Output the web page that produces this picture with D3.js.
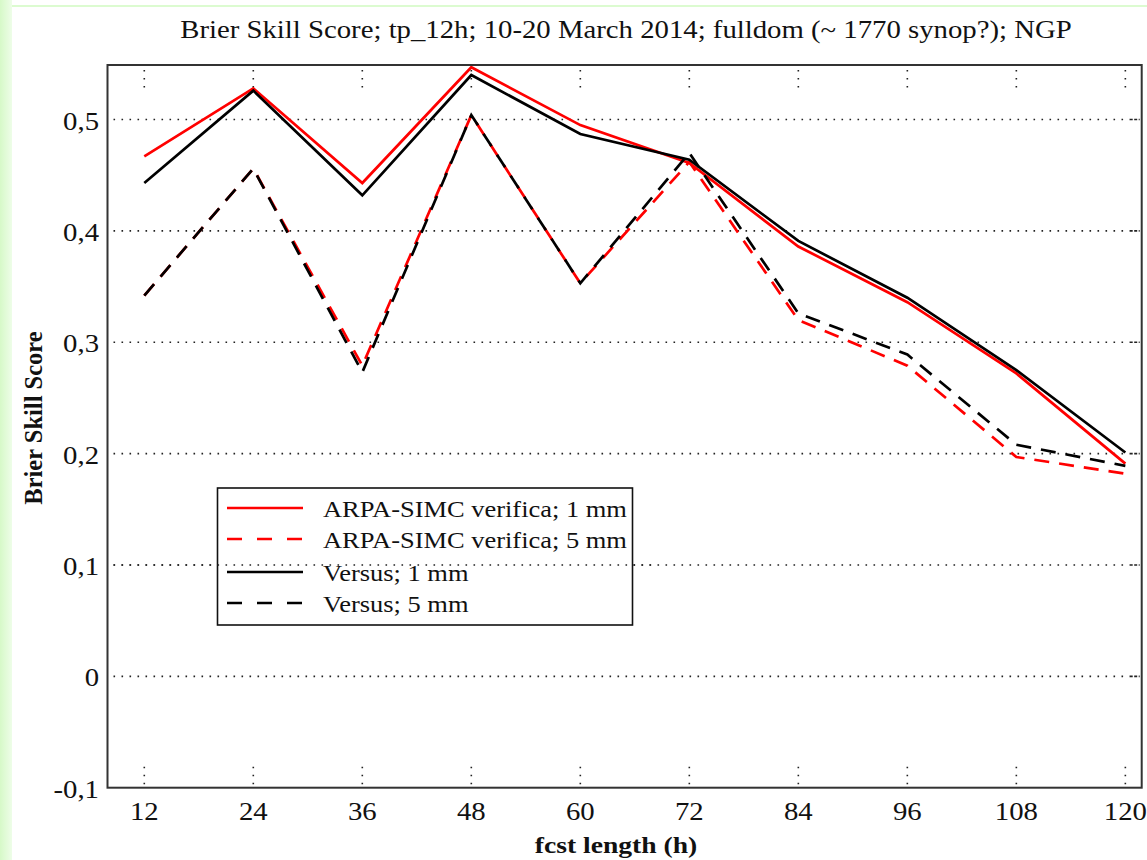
<!DOCTYPE html>
<html>
<head>
<meta charset="utf-8">
<script src="https://cdn.jsdelivr.net/npm/d3@7"></script>
<style>
  body { margin: 0; background: #fff; }
  text { font-family: "Liberation Serif", "Times New Roman", serif; fill: #111; }
</style>
</head>
<body>
<script>
var width = 1147;
var height = 860;

// forecast lengths (h)
var leads = [12, 24, 36, 48, 60, 72, 84, 96, 108, 120];

// Brier skill score per lead time
var arpa1 = [0.467, 0.528, 0.443, 0.547, 0.495, 0.461, 0.386, 0.336, 0.272, 0.191];
var arpa5 = [0.342, 0.456, 0.279, 0.504, 0.353, 0.462, 0.320, 0.279, 0.197, 0.182];
var versus1 = [0.443, 0.526, 0.432, 0.540, 0.487, 0.464, 0.391, 0.340, 0.275, 0.201];
var versus5 = [0.342, 0.456, 0.273, 0.504, 0.353, 0.470, 0.326, 0.289, 0.208, 0.189];

var yTicks = [-0.1, 0, 0.1, 0.2, 0.3, 0.4, 0.5];

var seriesNames = ["ARPA-SIMC verifica; 1 mm", "ARPA-SIMC verifica; 5 mm", "Versus; 1 mm", "Versus; 5 mm"];
var seriesColors = ["#ff0000", "#ff0000", "#000000", "#000000"];
var seriesDash = [null, "15,10", null, "15,10"];
var seriesValues = [arpa1, arpa5, versus1, versus5];

// plot frame (note: "top" is taken by window.top)
var pLeft = 107.5, pRight = 1141.7, pTop = 65, pBottom = 787.7;
var stretch = 1.15;

var svg = d3.select("body")
            .append("svg")
            .attr("width", width)
            .attr("height", height);

// light green page edge
var grad = svg.append("defs").append("linearGradient")
              .attr("id", "edge")
              .attr("x1", "0").attr("x2", "1").attr("y1", "0").attr("y2", "0");
grad.append("stop").attr("offset", "0").attr("stop-color", "#d6f9c8");
grad.append("stop").attr("offset", "1").attr("stop-color", "#eefde8");
svg.append("rect")
   .attr("x", 0).attr("y", 0)
   .attr("width", 12).attr("height", height)
   .attr("fill", "url(#edge)");
svg.append("line")
   .attr("x1", 12).attr("x2", width)
   .attr("y1", 6).attr("y2", 6)
   .attr("stroke", "#dcfbd0")
   .attr("stroke-width", 2);

var x = d3.scaleLinear().domain([7.95, 121.8]).range([pLeft, pRight]);
var y = d3.scaleLinear().domain([-0.1, 0.549]).range([pBottom, pTop]);

// helper: Times-like text in the reference is a little wider
function widen(sel) {
  sel.each(function() {
    var len = this.getComputedTextLength();
    d3.select(this).attr("textLength", len * stretch).attr("lengthAdjust", "spacingAndGlyphs");
  });
}

var gridVals = yTicks.filter(function(d) { return d > -0.1; });

// horizontal dotted grid
svg.append("g")
   .selectAll("line")
   .data(gridVals)
   .join("line")
   .attr("x1", pLeft + 6)
   .attr("x2", pRight - 12)
   .attr("y1", function(d) { return y(d); })
   .attr("y2", function(d) { return y(d); })
   .attr("stroke", "#222")
   .attr("stroke-width", 1.6)
   .attr("stroke-dasharray", "1.6,6.4");

// right side ticks
svg.append("g")
   .selectAll("line")
   .data(gridVals)
   .join("line")
   .attr("x1", pRight - 12)
   .attr("x2", pRight - 2)
   .attr("y1", function(d) { return y(d); })
   .attr("y2", function(d) { return y(d); })
   .attr("stroke", "#222")
   .attr("stroke-width", 1.6)
   .attr("stroke-dasharray", "3,1.5");

// short dotted vertical ticks at top and bottom
var vt = svg.append("g");
vt.selectAll("line.top")
  .data(leads)
  .join("line")
  .attr("class", "top")
  .attr("x1", function(d) { return x(d); })
  .attr("x2", function(d) { return x(d); })
  .attr("y1", pTop + 5)
  .attr("y2", pTop + 23)
  .attr("stroke", "#222")
  .attr("stroke-width", 1.6)
  .attr("stroke-dasharray", "1.6,6.4");
vt.selectAll("line.bot")
  .data(leads)
  .join("line")
  .attr("class", "bot")
  .attr("x1", function(d) { return x(d); })
  .attr("x2", function(d) { return x(d); })
  .attr("y1", pBottom - 21)
  .attr("y2", pBottom - 3)
  .attr("stroke", "#222")
  .attr("stroke-width", 1.6)
  .attr("stroke-dasharray", "1.6,6.4");

// series lines
var line = d3.line()
             .x(function(d, i) { return x(leads[i]); })
             .y(function(d) { return y(d); });

seriesValues.forEach(function(vals, i) {
  svg.append("path")
     .datum(vals)
     .attr("d", line)
     .attr("fill", "none")
     .attr("stroke", seriesColors[i])
     .attr("stroke-width", 2.7)
     .attr("stroke-dasharray", seriesDash[i]);
});

// frame
svg.append("rect")
   .attr("x", pLeft).attr("y", pTop)
   .attr("width", pRight - pLeft).attr("height", pBottom - pTop)
   .attr("fill", "none")
   .attr("stroke", "#333")
   .attr("stroke-width", 2);

// tick labels
svg.append("g")
   .selectAll("text")
   .data(yTicks)
   .join("text")
   .attr("x", 99)
   .attr("y", function(d) { return y(d) + 10; })
   .attr("text-anchor", "end")
   .attr("font-size", 25)
   .text(function(d) { return d3.format(".1~f")(d).replace(".", ",").replace("−", "-"); })
   .call(widen);

svg.append("g")
   .selectAll("text")
   .data(leads)
   .join("text")
   .attr("x", function(d) { return x(d); })
   .attr("y", 820)
   .attr("text-anchor", "middle")
   .attr("font-size", 25)
   .text(function(d) { return d; })
   .call(widen);

// titles
svg.append("text")
   .attr("x", 626)
   .attr("y", 38)
   .attr("text-anchor", "middle")
   .attr("font-size", 25)
   .text("Brier Skill Score; tp_12h; 10-20 March 2014; fulldom (~ 1770 synop?); NGP")
   .call(widen);

svg.append("text")
   .attr("x", 616)
   .attr("y", 853)
   .attr("text-anchor", "middle")
   .attr("font-size", 24)
   .attr("font-weight", "bold")
   .text("fcst length (h)")
   .call(widen);

svg.append("text")
   .attr("transform", "translate(42,418) rotate(-90)")
   .attr("text-anchor", "middle")
   .attr("font-size", 24.5)
   .attr("font-weight", "bold")
   .text("Brier Skill Score");

// legend
var lg = svg.append("g");
lg.append("rect")
  .attr("x", 217.5).attr("y", 488)
  .attr("width", 415).attr("height", 137)
  .attr("fill", "#fff")
  .attr("stroke", "#111")
  .attr("stroke-width", 1.6);

var rows = [508, 539, 572, 603];
seriesNames.forEach(function(name, i) {
  lg.append("line")
    .attr("x1", 227).attr("x2", 303)
    .attr("y1", rows[i]).attr("y2", rows[i])
    .attr("stroke", seriesColors[i])
    .attr("stroke-width", 2.7)
    .attr("stroke-dasharray", seriesDash[i] ? "15,15" : null);
  lg.append("text")
    .attr("x", 323)
    .attr("y", rows[i] + 8.5)
    .attr("font-size", 23)
    .text(name)
    .call(widen);
});

// dotted grid line crossing the legend, as in the reference
svg.append("line")
   .attr("x1", pLeft + 6).attr("x2", 655)
   .attr("y1", y(0.1)).attr("y2", y(0.1))
   .attr("stroke", "#222")
   .attr("stroke-width", 1.6)
   .attr("stroke-dasharray", "1.6,6.4");
</script>
</body>
</html>
